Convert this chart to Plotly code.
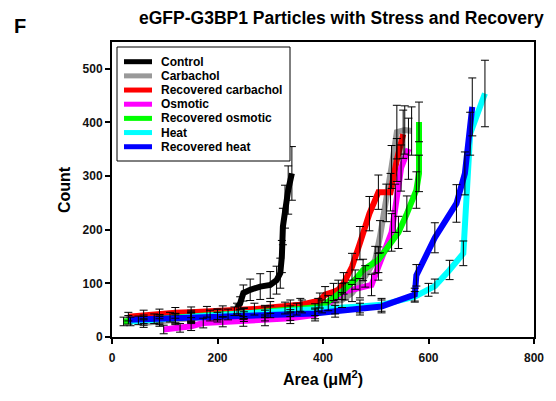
import plotly.graph_objects as go

# ---- data ----
series_names = ["Control", "Carbachol", "Recovered carbachol", "Osmotic",
                "Recovered osmotic", "Heat", "Recovered heat"]
series_colors = ["#000000", "#999999", "#ff0000", "#ff00ff", "#00ff00", "#00ffff", "#0000ff"]

control_x = [232, 237, 243, 249, 262, 281, 300, 312, 319, 322, 324, 328, 334, 341]
control_y = [48, 53, 63, 82, 88, 94, 97, 106, 119, 150, 206, 243, 274, 305]
control_e = [8, 10, 12, 15, 20, 24, 25, 26, 28, 30, 34, 40, 45, 50]

carb_x = [60, 90, 120, 150, 186, 220, 249, 290, 328, 360, 391, 436, 455, 480, 499, 508, 520, 530, 540, 555, 568]
carb_y = [26, 29, 32, 35, 40, 42, 43, 48, 54, 57, 60, 69, 82, 113, 144, 187, 250, 317, 382, 386, 384]
carb_e = [8, 9, 9, 10, 10, 10, 10, 11, 11, 12, 12, 14, 16, 20, 25, 30, 35, 40, 50, 45, 45]

rcarb_x = [31, 60, 90, 120, 150, 180, 210, 240, 270, 300, 338, 357, 394, 404, 420, 429, 439, 455, 470, 488, 505, 528, 540, 552]
rcarb_y = [38, 41, 43, 45, 46, 47, 48, 50, 52, 55, 58, 60, 68, 79, 84, 88, 100, 131, 175, 230, 270, 270, 330, 378]
rcarb_e = [8, 9, 9, 10, 10, 10, 10, 10, 11, 11, 11, 12, 14, 15, 16, 18, 20, 25, 31, 32, 32, 35, 40, 45]

osm_x = [98, 129, 150, 173, 210, 249, 290, 338, 385, 410, 442, 470, 492, 505, 530, 537, 548, 562]
osm_y = [14, 17, 20, 26, 28, 29, 31, 35, 41, 63, 85, 91, 97, 131, 195, 240, 315, 351]
osm_e = [8, 8, 8, 9, 9, 9, 10, 10, 11, 14, 16, 18, 20, 25, 35, 45, 43, 57]

rosm_x = [22, 50, 80, 110, 150, 200, 250, 300, 350, 398, 436, 461, 476, 505, 543, 559, 577, 582, 582]
rosm_y = [29, 31, 34, 37, 40, 42, 44, 47, 52, 57, 85, 107, 125, 144, 195, 230, 274, 305, 401]
rosm_e = [8, 8, 9, 9, 10, 10, 10, 11, 11, 12, 15, 18, 20, 24, 30, 33, 34, 34, 37]

heat_x = [35, 60, 90, 120, 150, 200, 250, 290, 338, 385, 423, 470, 511, 574, 600, 612, 640, 666, 679, 707]
heat_y = [29, 30, 32, 35, 38, 42, 44, 46, 48, 51, 54, 57, 60, 75, 88, 95, 125, 156, 379, 454]
heat_e = [8, 8, 9, 9, 9, 10, 10, 10, 10, 11, 11, 12, 12, 10, 12, 13, 18, 23, 40, 62]

rheat_x = [31, 60, 90, 120, 150, 200, 250, 290, 338, 385, 423, 470, 511, 574, 577, 612, 653, 669, 683]
rheat_y = [32, 33, 34, 35, 36, 37, 38, 40, 41, 44, 48, 52, 57, 79, 115, 185, 249, 305, 429]
rheat_e = [8, 8, 8, 9, 9, 9, 9, 10, 10, 10, 11, 11, 12, 12, 20, 28, 35, 40, 54]

series_x = [control_x, carb_x, rcarb_x, osm_x, rosm_x, heat_x, rheat_x]
series_y = [control_y, carb_y, rcarb_y, osm_y, rosm_y, heat_y, rheat_y]
series_e = [control_e, carb_e, rcarb_e, osm_e, rosm_e, heat_e, rheat_e]

x_ticks = [0, 200, 400, 600, 800]
y_ticks = [0, 100, 200, 300, 400, 500]

FONT = "Liberation Sans, Arial, sans-serif"

# ---- layout geometry (pixels) ----
W, H = 556, 401
ML, MR, MT, MB = 112, 22, 42, 64
PW, PH = W - ML - MR, H - MT - MB


def px(xp):
    return (xp - ML) / PW


def py(yp):
    return (H - MB - yp) / PH


fig = go.Figure()

for name, color, xs, ys in zip(series_names, series_colors, series_x, series_y):
    fig.add_trace(go.Scatter(
        x=xs, y=ys, mode="lines", name=name,
        line=dict(color=color, width=6),
        hoverinfo="skip",
    ))

for xs, ys, es in zip(series_x, series_y, series_e):
    fig.add_trace(go.Scatter(
        x=xs, y=ys, mode="markers", showlegend=False, hoverinfo="skip",
        marker=dict(size=1, color="rgba(0,0,0,0)"),
        error_y=dict(type="data", array=es, visible=True,
                     color="black", thickness=1, width=4),
    ))

axis_common = dict(
    showline=True, linecolor="black", linewidth=2, mirror=True,
    ticks="outside", ticklen=5, tickwidth=1.5, tickcolor="black",
    showgrid=False, zeroline=False,
    tickfont=dict(family=FONT, size=12, color="#111111", weight="bold"),
)

fig.update_xaxes(range=[0, 800], tickvals=x_ticks, ticklabelstandoff=4, **axis_common)
fig.update_yaxes(range=[0, 550], tickvals=y_ticks, **axis_common)

# ---- hand-built legend (compact rows like the reference) ----
shapes = [dict(type="rect", xref="paper", yref="paper",
               x0=px(117), x1=px(290), y0=py(47), y1=py(161),
               line=dict(color="black", width=1), fillcolor="white", layer="above")]
annotations = []
for i, (name, color) in enumerate(zip(series_names, series_colors)):
    yc = 61.7 + 14.17 * i
    shapes.append(dict(type="line", xref="paper", yref="paper",
                       x0=px(124), x1=px(152), y0=py(yc), y1=py(yc),
                       line=dict(color=color, width=5), layer="above"))
    annotations.append(dict(text=name, xref="paper", yref="paper",
                            x=px(159), y=py(yc), xanchor="left", yanchor="middle",
                            showarrow=False,
                            font=dict(family=FONT, size=12, color="black", weight="bold")))

annotations += [
    dict(text="eGFP-G3BP1 Particles with Stress and Recovery",
         xref="paper", yref="paper", x=px(341), y=py(18),
         xanchor="center", yanchor="middle", showarrow=False,
         font=dict(family=FONT, size=17.5, color="black", weight="bold")),
    dict(text="F", xref="paper", yref="paper", x=px(20), y=py(26),
         xanchor="center", yanchor="middle", showarrow=False,
         font=dict(family=FONT, size=20, color="black", weight="bold")),
    dict(text="Count", xref="paper", yref="paper", x=px(64), y=py(190),
         xanchor="center", yanchor="middle", showarrow=False, textangle=-90,
         font=dict(family=FONT, size=16, color="black", weight="bold")),
    dict(text="Area (\u03bcM<sup>2</sup>)", xref="paper", yref="paper",
         x=px(323), y=py(378), xanchor="center", yanchor="middle", showarrow=False,
         font=dict(family=FONT, size=16, color="black", weight="bold")),
]

fig.update_layout(
    width=W, height=H,
    margin=dict(l=ML, r=MR, t=MT, b=MB),
    plot_bgcolor="white", paper_bgcolor="white",
    showlegend=False,
    shapes=shapes,
    annotations=annotations,
)

fig.write_html("out.html")
